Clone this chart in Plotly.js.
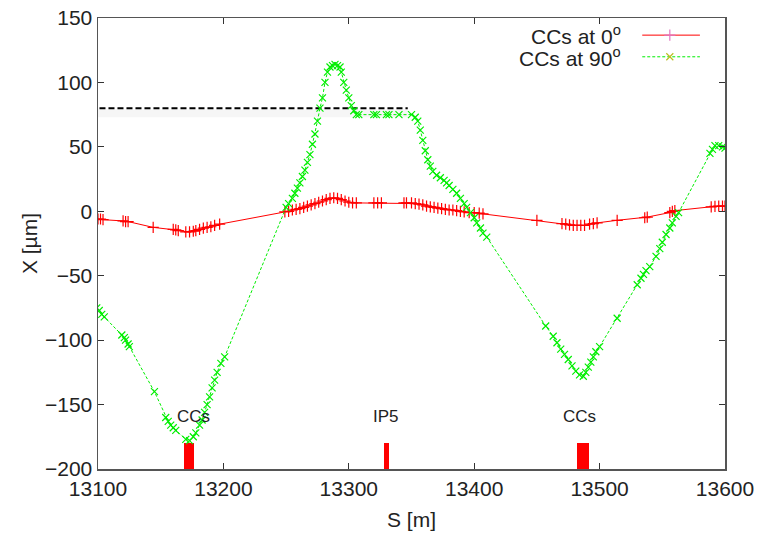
<!DOCTYPE html>
<html>
<head>
<meta charset="utf-8">
<script src="https://cdn.plot.ly/plotly-3.0.1.min.js"></script>
<style>html,body{margin:0;padding:0;background:#fff;}#chart{width:768px;height:534px;}</style>
</head>
<body>
<div id="chart"></div>
<script>
// CCs at 90 deg (green)
const s90 = [13099,13101,13103,13105,13119,13121,13122,13124,13125,13145,13154,13156,13158,13160,13162,13170,13173,13176,13178,13181,13183,13185,13187,13189,13191,13193,13195,13198,13201,
 13250,13252,13255,13257,13259,13261,13263,13265,13267,13269,13271,13273,13275,13277,13279,13281,13283,13285,13287,13289,13291,13293,13294,13296,13298,13300,13302,13304,13306,13308,13320,13322,13330,13332,13340,13350,
 13353,13355,13357,13359,13361,13363,13365,13367,13370,13373,13376,13378,13380,13383,13386,13389,13392,13394,13397,13400,13402,13405,13407,13410,
 13457,13463,13466,13469,13472,13475,13478,13481,13484,13487,13489,13491,13493,13495,13497,13500,13514,13530,13533,13535,13537,13540,13545,13548,13550,13553,13556,13558,13561,13563,13588,13590,13592,13595,13598,13600];
const x90 = [-75,-77,-80,-82,-96,-98,-100,-103,-105,-140,-160,-163,-166,-168,-170,-177,-178,-175,-172,-166,-162,-156,-150,-144,-137,-131,-125,-118,-113,
 3,6,10,14,18,22,27,32,38,44,52,60,70,80,88,100,108,112,113,114,113,112,108,100,94,88,82,78,75,75,75,75,75,75,75,75,
 73,70,63,55,47,40,35,31,28,26,24,22,20,17,14,10,6,3,-1,-5,-9,-13,-17,-20,
 -89,-97,-102,-107,-111,-115,-120,-124,-127,-128,-125,-121,-117,-113,-109,-105,-83,-57,-52,-49,-46,-43,-35,-29,-24,-18,-13,-9,-4,-1,45,48,51,51,50,49];
// CCs at 0 deg (red)
const s0 = [13100,13102,13104,13120,13122,13124,13144,13160,13162,13164,13170,13173,13176,13178,13181,13184,13187,13190,13193,13197,
 13249,13252,13255,13258,13261,13264,13267,13270,13273,13276,13279,13282,13285,13288,13291,13294,13297,13300,13303,13306,13320,13323,13326,13344,13346,13350,
 13353,13356,13359,13362,13365,13368,13371,13374,13377,13380,13383,13386,13389,13392,13396,13400,13404,13407,
 13450,13470,13473,13476,13479,13482,13485,13488,13492,13495,13498,13514,13536,13538,13556,13558,13560,13589,13592,13595,13598,13600];
const x0 = [-6,-6,-6.5,-7.5,-8,-8,-12.5,-14,-14.5,-15,-16,-16,-15.5,-15,-14,-13,-12.5,-12,-11,-10,
 -0.5,0,1,1.5,2,3,4,5,6,7,8,9,10,10.5,10,9,8,7,6.5,6.5,6.5,6.5,6.5,6.5,6.5,6.5,
 6,5.5,5,4,3.5,3,2.5,2,1.5,1,1,0.5,0,-0.5,-1,-1,-1.5,-2,
 -7,-9.5,-10,-10.5,-11,-11,-11,-11,-10,-9.5,-9,-7,-5,-4.5,-1,0,0.5,3.5,3.8,4,4,4];
// element markers (red blocks)
const elemS = [13172.6, 13330, 13486.6];
const elemW = [8.5, 3.8, 9.8];
const elemBase = -200;
const elemTop = -180;
const elemLabels = ["CCs", "IP5", "CCs"];
const elemLabelS = [13176, 13330, 13484];
const elemLabelY = -159;
// dashed reference line
const refS = [13094, 13347];
const refX = [80, 80];
const shadowX = [76, 76];
const seriesNames = ["CCs at 0<sup>o</sup>", "CCs at 90<sup>o</sup>"];
const xTicks = [13100, 13200, 13300, 13400, 13500, 13600];
const yTicks = [-200, -150, -100, -50, 0, 50, 100, 150];

const font = "Liberation Sans, Arial, Helvetica, sans-serif";
const traces = [
  {x: refS, y: shadowX, mode: 'lines', line: {color: 'rgba(0,0,0,0.035)', width: 8}, cliponaxis: false, hoverinfo: 'skip'},
  {x: refS, y: refX, mode: 'lines', line: {color: '#000', width: 2, dash: '6px,3px'}, cliponaxis: false, hoverinfo: 'skip'},
  {type: 'bar', x: elemS, y: elemS.map(() => elemTop - elemBase), base: elemBase, width: elemW,
   marker: {color: '#ff0000', line: {width: 0}}},
  {x: s0, y: x0, mode: 'lines+markers', name: seriesNames[0],
   line: {color: '#ff0000', width: 1},
   marker: {symbol: 'cross-thin-open', size: 8, line: {color: '#ff0000', width: 1.2}}},
  {x: s90, y: x90, mode: 'lines+markers', name: seriesNames[1],
   line: {color: '#00ee00', width: 1, dash: '3px,2px'},
   marker: {symbol: 'x-thin-open', size: 7, line: {color: '#00ee00', width: 1.2}}},
  // legend samples on overlay axes
  {x: [0.868, 0.960], y: [0.962, 0.962], xaxis: 'x2', yaxis: 'y2', mode: 'lines', line: {color: '#ff0000', width: 1}, cliponaxis: false},
  {x: [0.912], y: [0.962], xaxis: 'x2', yaxis: 'y2', mode: 'markers', marker: {symbol: 'cross-thin-open', size: 8, line: {color: '#ff0000', width: 1.2}}, cliponaxis: false},
  {x: [0.868, 0.960], y: [0.914, 0.914], xaxis: 'x2', yaxis: 'y2', mode: 'lines', line: {color: '#00ee00', width: 1, dash: '3px,2px'}, cliponaxis: false},
  {x: [0.912], y: [0.914], xaxis: 'x2', yaxis: 'y2', mode: 'markers', marker: {symbol: 'x-thin-open', size: 7, line: {color: '#00ee00', width: 1.2}}, cliponaxis: false}
];

const annotations = elemLabels.map((t, i) => ({
  x: elemLabelS[i], y: elemLabelY, xref: 'x', yref: 'y', text: t, showarrow: false,
  font: {family: font, size: 17, color: '#222'}
}));
annotations.push({x: 0.837, y: 0.962, xref: 'paper', yref: 'paper', xanchor: 'right', yanchor: 'middle', text: seriesNames[0], showarrow: false, font: {family: font, size: 21, color: '#222'}});
annotations.push({x: 0.837, y: 0.914, xref: 'paper', yref: 'paper', xanchor: 'right', yanchor: 'middle', text: seriesNames[1], showarrow: false, font: {family: font, size: 21, color: '#222'}});

const layout = {
  width: 768, height: 534,
  margin: {l: 98, r: 43, t: 18, b: 65},
  paper_bgcolor: '#fff', plot_bgcolor: '#fff',
  showlegend: false,
  font: {family: font, size: 21, color: '#222'},
  xaxis: {range: [13100, 13600], tickmode: 'array', tickvals: xTicks, ticktext: xTicks.map(String),
    ticks: 'inside', ticklen: 6, tickcolor: '#333',
    showline: true, linecolor: '#555', linewidth: 1.5, mirror: 'ticks', showgrid: false, zeroline: false,
    title: {text: 'S [m]', font: {family: font, size: 21}, standoff: 13}, tickfont: {family: font, size: 21}},
  yaxis: {range: [-200, 150], tickmode: 'array', tickvals: yTicks, ticktext: yTicks.map(v => v < 0 ? '\u2212' + Math.abs(v) : String(v)),
    ticks: 'inside', ticklen: 6, tickcolor: '#333',
    showline: true, linecolor: '#555', linewidth: 1.5, mirror: 'ticks', showgrid: false, zeroline: false,
    title: {text: 'X [µm]', font: {family: font, size: 21}, standoff: 1}, tickfont: {family: font, size: 21}},
  xaxis2: {overlaying: 'x', range: [0, 1], visible: false, fixedrange: true},
  yaxis2: {overlaying: 'y', range: [0, 1], visible: false, fixedrange: true},
  annotations: annotations,
  bargap: 0
};
Plotly.newPlot('chart', traces, layout, {displayModeBar: false, staticPlot: true});
</script>
</body>
</html>
